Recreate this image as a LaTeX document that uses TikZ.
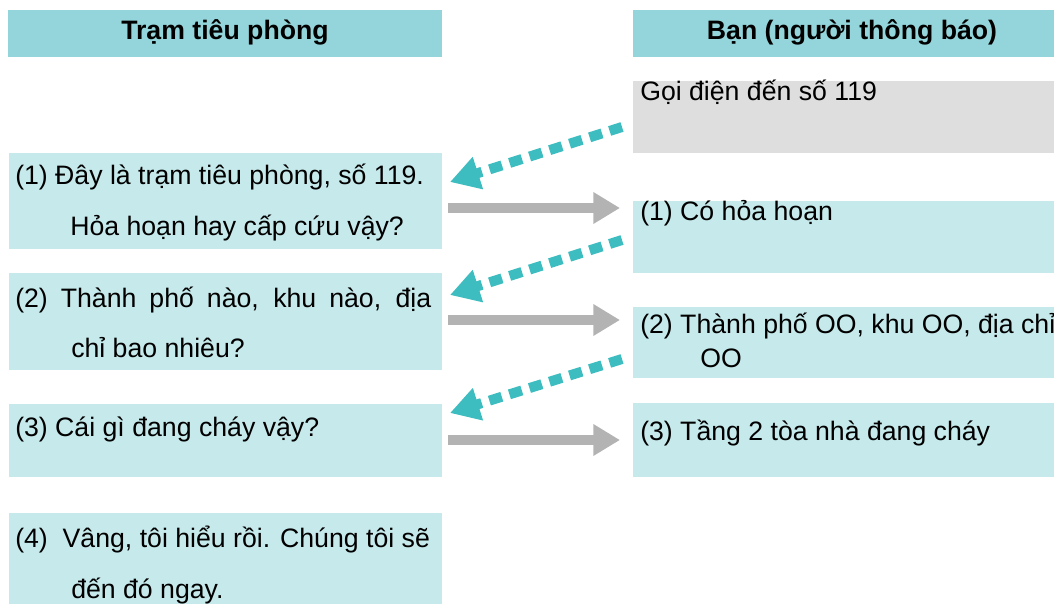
\documentclass[tikz,border=0pt]{standalone}
\usepackage{fontspec}
\setmainfont{Liberation Sans}
\usetikzlibrary{arrows.meta,fit}
\definecolor{headc}{HTML}{93D5DA}
\definecolor{boxc}{HTML}{C6E9EB}
\definecolor{grayc}{HTML}{DEDEDE}
\definecolor{tealarr}{HTML}{3DBDBF}
\definecolor{grayarr}{HTML}{B3B3B3}
\tikzset{
  hbox/.style={fill=headc, draw=none, inner sep=0pt},
  lbox/.style={fill=boxc, draw=none, inner sep=0pt},
  gbox/.style={fill=grayc, draw=none, inner sep=0pt},
  txt/.style={inner sep=0pt, anchor=base west, font=\fontsize{20pt}{24pt}\selectfont},
  htxt/.style={inner sep=0pt, anchor=base, font=\fontsize{20pt}{24pt}\selectfont\bfseries},
  reply/.style={draw=tealarr, line width=7.5pt, dash pattern=on 9.75pt off 6pt,
    -{Triangle[length=22pt,width=24pt,fill=tealarr]}},
  ask/.style={draw=grayarr, line width=7.5pt,
    -{Triangle[length=20pt,width=22.5pt,fill=grayarr]}}
}
\begin{document}
\begin{tikzpicture}[x=0.75pt,y=-0.75pt]
\useasboundingbox (0,0) rectangle (1054,604);
% headers
\node[hbox, fit={(8,10)(442,57)}] (hl) {};
\node[hbox, fit={(633,10)(1054,57)}] (hr) {};
\node[htxt] (hlt) at (225,39) {Trạm tiêu phòng};
\node[htxt] (hrt) at (852,39) {Bạn (người thông báo)};
% left boxes
\node[lbox, fit={(9,153)(442,249)}] (l1) {};
\node[lbox, fit={(9,273)(442,370)}] (l2) {};
\node[lbox, fit={(9,404)(442,477)}] (l3) {};
\node[lbox, fit={(9,513)(442,604)}] (l4) {};
% right boxes
\node[gbox, fit={(633,81)(1054,153)}] (r0) {};
\node[lbox, fit={(633,201)(1054,273)}] (r1) {};
\node[lbox, fit={(633,307)(1054,378)}] (r2) {};
\node[lbox, fit={(633,403)(1054,477)}] (r3) {};
% texts left
\node[txt] (l1a) at (15,184) {(1) Đây là trạm tiêu phòng, số 119.};
\node[txt] (l1b) at (70,235) {Hỏa hoạn hay cấp cứu vậy?};
\node[txt] (l2a) at (15,307) {\makebox[312pt][s]{(2) Thành phố nào, khu nào, địa}};
\node[txt] (l2b) at (71,357) {chỉ bao nhiêu?};
\node[txt] (l3a) at (15,436) {(3) Cái gì đang cháy vậy?};
\node[txt] (l4a) at (15,547) {\makebox[311pt][s]{(4)\ \ Vâng, tôi hiểu rồi. Chúng tôi sẽ}};
\node[txt] (l4b) at (71,598) {đến đó ngay.};
% texts right
\node[txt] (r0a) at (640,100) {Gọi điện đến số 119};
\node[txt] (r1a) at (640,220) {(1) Có hỏa hoạn};
\node[txt] (r2a) at (640,333) {(2) Thành phố OO, khu OO, địa chỉ};
\node[txt] (r2b) at (700,367) {OO};
\node[txt] (r3a) at (640,440) {(3) Tầng 2 tòa nhà đang cháy};
% arrow end points
\coordinate (t1s) at (622,127); \coordinate (t1e) at (450,182);
\coordinate (t2s) at (622,240); \coordinate (t2e) at (450,295);
\coordinate (t3s) at (622,359); \coordinate (t3e) at (450,413);
\coordinate (g1s) at (448,208); \coordinate (g1e) at (620,208);
\coordinate (g2s) at (448,320); \coordinate (g2e) at (620,320);
\coordinate (g3s) at (448,440); \coordinate (g3e) at (620,440);
\draw[reply] (t1s) -- (t1e);
\draw[reply] (t2s) -- (t2e);
\draw[reply] (t3s) -- (t3e);
\draw[ask] (g1s) -- (g1e);
\draw[ask] (g2s) -- (g2e);
\draw[ask] (g3s) -- (g3e);
\end{tikzpicture}
\end{document}
